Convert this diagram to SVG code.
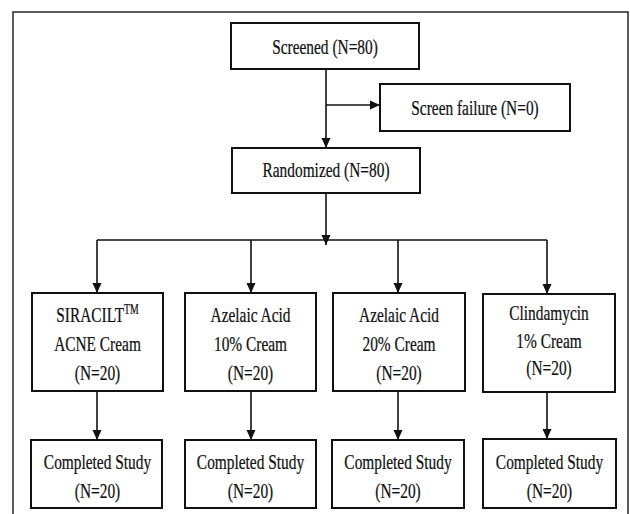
<svg xmlns="http://www.w3.org/2000/svg" width="630" height="514" viewBox="0 0 630 514">
<style>
.box{fill:#fff;stroke:#111;stroke-width:2}
.frame{fill:#fff;stroke:#333;stroke-width:1.6}
.ln{fill:none;stroke:#111;stroke-width:1.6}
text{font-family:'Liberation Serif','Times New Roman',serif;font-size:22px;fill:#111;stroke:#111;stroke-width:0.25;text-anchor:middle}
.sup{font-size:14px}
</style>
<defs>
<marker id="ah" markerUnits="userSpaceOnUse" markerWidth="10" markerHeight="10" refX="10" refY="5" orient="auto">
<path d="M0,0.5 L10,5 L0,9.5 z" fill="#111"/>
</marker>
</defs>
<rect class="frame" x="13" y="12" width="615" height="520"/>
<g id="connectors">
<line class="ln" x1="326" y1="69" x2="326" y2="148" marker-end="url(#ah)"/>
<line class="ln" x1="326" y1="105" x2="380" y2="105" marker-end="url(#ah)"/>
<line class="ln" x1="326" y1="193" x2="326" y2="245" marker-end="url(#ah)"/>
<line class="ln" x1="97" y1="240" x2="547" y2="240"/>
<line class="ln" x1="97" y1="240" x2="97" y2="293" marker-end="url(#ah)"/>
<line class="ln" x1="251" y1="240" x2="251" y2="293" marker-end="url(#ah)"/>
<line class="ln" x1="398" y1="240" x2="398" y2="293" marker-end="url(#ah)"/>
<line class="ln" x1="547" y1="240" x2="547" y2="294" marker-end="url(#ah)"/>
<line class="ln" x1="97" y1="391" x2="97" y2="440" marker-end="url(#ah)"/>
<line class="ln" x1="251" y1="391" x2="251" y2="440" marker-end="url(#ah)"/>
<line class="ln" x1="398" y1="391" x2="398" y2="440" marker-end="url(#ah)"/>
<line class="ln" x1="547" y1="392" x2="547" y2="439" marker-end="url(#ah)"/>
</g>
<g id="screened">
<rect class="box" x="231" y="23" width="188" height="46"/>
<text transform="translate(325 54) scale(0.7 1)">Screened (N=80)</text>
</g>
<g id="screen-failure">
<rect class="box" x="380" y="84" width="190" height="47"/>
<text transform="translate(475 115) scale(0.7 1)">Screen failure (N=0)</text>
</g>
<g id="randomized">
<rect class="box" x="232" y="148" width="188" height="45"/>
<text transform="translate(326 177) scale(0.7 1)">Randomized (N=80)</text>
</g>
<g id="siracilt">
<rect class="box" x="32" y="293" width="131" height="98"/>
<text transform="translate(97.5 322) scale(0.7 1)">SIRACILT<tspan class="sup" dy="-8">TM</tspan></text>
<text transform="translate(97.5 351) scale(0.7 1)">ACNE Cream</text>
<text transform="translate(97.5 380) scale(0.7 1)">(N=20)</text>
</g>
<g id="azelaic10">
<rect class="box" x="185" y="293" width="131" height="98"/>
<text transform="translate(250.5 322) scale(0.7 1)">Azelaic Acid</text>
<text transform="translate(250.5 351) scale(0.7 1)">10% Cream</text>
<text transform="translate(250.5 380) scale(0.7 1)">(N=20)</text>
</g>
<g id="azelaic20">
<rect class="box" x="333" y="293" width="132" height="98"/>
<text transform="translate(399 322) scale(0.7 1)">Azelaic Acid</text>
<text transform="translate(399 351) scale(0.7 1)">20% Cream</text>
<text transform="translate(399 380) scale(0.7 1)">(N=20)</text>
</g>
<g id="clindamycin">
<rect class="box" x="483" y="294" width="132" height="98"/>
<text transform="translate(549 320) scale(0.7 1)">Clindamycin</text>
<text transform="translate(549 348) scale(0.7 1)">1% Cream</text>
<text transform="translate(549 375) scale(0.7 1)">(N=20)</text>
</g>
<g id="completed1">
<rect class="box" x="31" y="440" width="131" height="68"/>
<text transform="translate(97.5 469) scale(0.7 1)">Completed Study</text>
<text transform="translate(97.5 498) scale(0.7 1)">(N=20)</text>
</g>
<g id="completed2">
<rect class="box" x="185" y="440" width="131" height="68"/>
<text transform="translate(250.5 469) scale(0.7 1)">Completed Study</text>
<text transform="translate(250.5 498) scale(0.7 1)">(N=20)</text>
</g>
<g id="completed3">
<rect class="box" x="332" y="440" width="132" height="68"/>
<text transform="translate(398 469) scale(0.7 1)">Completed Study</text>
<text transform="translate(398 498) scale(0.7 1)">(N=20)</text>
</g>
<g id="completed4">
<rect class="box" x="483" y="439" width="133" height="69"/>
<text transform="translate(549.5 469) scale(0.7 1)">Completed Study</text>
<text transform="translate(549.5 498) scale(0.7 1)">(N=20)</text>
</g>
</svg>
